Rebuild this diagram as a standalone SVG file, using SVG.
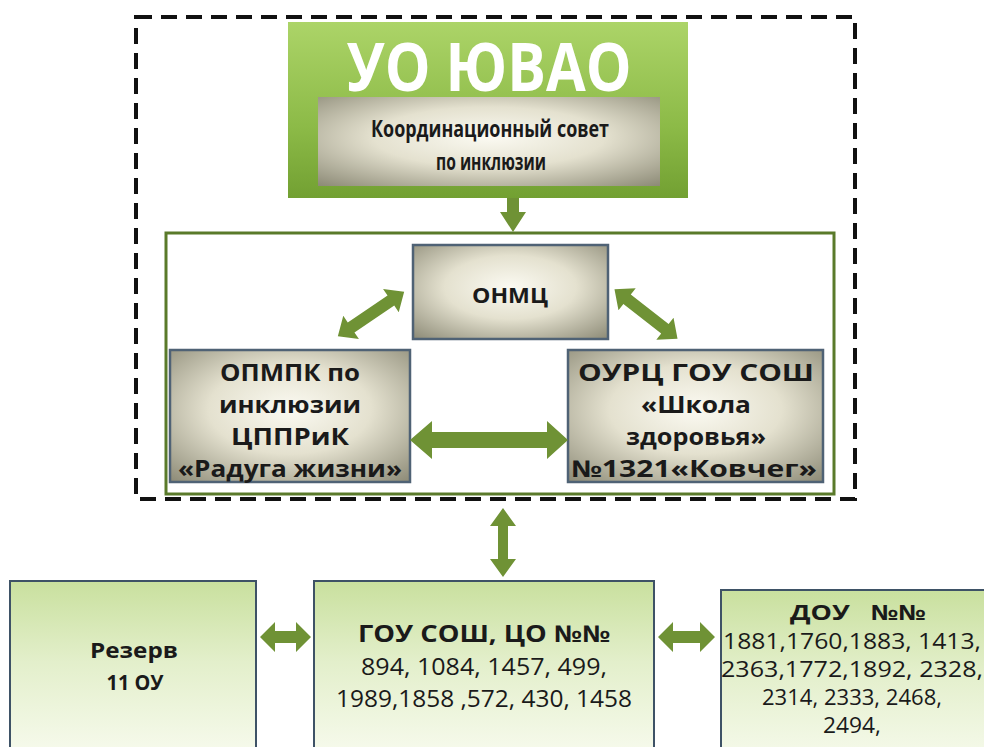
<svg xmlns="http://www.w3.org/2000/svg" width="984" height="747" viewBox="0 0 984 747">
<defs>
<linearGradient id="gTop" x1="0" y1="0" x2="0" y2="1">
<stop offset="0" stop-color="#acd468"/><stop offset="0.6" stop-color="#8cba47"/><stop offset="1" stop-color="#72a032"/>
</linearGradient>
<radialGradient id="gGray" cx="0.5" cy="0.45" r="0.75">
<stop offset="0" stop-color="#fbfaf2"/><stop offset="0.45" stop-color="#e4e1cf"/><stop offset="1" stop-color="#8a8874"/>
</radialGradient>
<linearGradient id="gLight" x1="0" y1="0" x2="0" y2="1">
<stop offset="0" stop-color="#c9e09e"/><stop offset="0.45" stop-color="#e3efcb"/><stop offset="1" stop-color="#f8fbef"/>
</linearGradient>
</defs>
<style>
.gray{fill:url(#gGray);stroke:#4f6275;stroke-width:2.5}
.light{fill:url(#gLight);stroke:#3e5266;stroke-width:2}
.arr{fill:#6f9235}
.t{font-family:"Open Sans","Liberation Sans",sans-serif;font-weight:bold;fill:#1a1a1a;text-anchor:middle}
.n{font-family:"Open Sans","Liberation Sans",sans-serif;fill:#1a1a1a;text-anchor:middle}
</style>
<rect width="984" height="747" fill="#ffffff"/>

<g id="outer-frame">
<rect x="136" y="17" width="719" height="482" fill="none" stroke="#111" stroke-width="4" stroke-dasharray="16,9"/>
</g>

<g id="inner-frame">
<rect x="166" y="233" width="668" height="261" fill="#ffffff" stroke="#5a7a2a" stroke-width="3"/>
</g>

<g id="uo-yuvao">
<rect x="288" y="22" width="400" height="176" fill="url(#gTop)"/>
<text x="489" y="91" font-family="'Open Sans','Liberation Sans',sans-serif" font-weight="bold" font-size="66" fill="#ffffff" text-anchor="middle" textLength="285" lengthAdjust="spacingAndGlyphs">УО ЮВАО</text>
</g>

<g id="coord-council">
<rect x="318" y="97" width="342" height="89" fill="url(#gGray)"/>
<text class="t" x="490" y="137" font-size="24" textLength="238" lengthAdjust="spacingAndGlyphs">Координационный совет</text>
<text class="t" x="491" y="170" font-size="24" textLength="110" lengthAdjust="spacingAndGlyphs">по инклюзии</text>
</g>

<g id="onmc">
<rect class="gray" x="413" y="245" width="195" height="94"/>
<text class="t" x="510" y="303" font-size="22" textLength="76" lengthAdjust="spacingAndGlyphs">ОНМЦ</text>
</g>

<g id="opmpk">
<rect class="gray" x="170" y="350" width="240" height="132"/>
<text class="t" x="290" y="381" font-size="23" textLength="140" lengthAdjust="spacingAndGlyphs">ОПМПК по</text>
<text class="t" x="290" y="413" font-size="23" textLength="142" lengthAdjust="spacingAndGlyphs">инклюзии</text>
<text class="t" x="290" y="445" font-size="23" textLength="118" lengthAdjust="spacingAndGlyphs">ЦППРиК</text>
<text class="t" x="290" y="477" font-size="23" textLength="224" lengthAdjust="spacingAndGlyphs">«Радуга жизни»</text>
</g>

<g id="ourc">
<rect class="gray" x="568" y="350" width="255" height="132"/>
<text class="t" x="696" y="381" font-size="23" textLength="236" lengthAdjust="spacingAndGlyphs">ОУРЦ  ГОУ СОШ</text>
<text class="t" x="696" y="413" font-size="23" textLength="110" lengthAdjust="spacingAndGlyphs">«Школа</text>
<text class="t" x="696" y="445" font-size="23" textLength="140" lengthAdjust="spacingAndGlyphs">здоровья»</text>
<text class="t" x="694" y="477" font-size="23" textLength="246" lengthAdjust="spacingAndGlyphs">№1321«Ковчег»</text>
</g>

<g id="reserve">
<rect class="light" x="10" y="581" width="246" height="180"/>
<text class="t" x="134" y="658" font-size="21" textLength="88" lengthAdjust="spacingAndGlyphs">Резерв</text>
<text class="t" x="135" y="690" font-size="21" textLength="57" lengthAdjust="spacingAndGlyphs">11 ОУ</text>
</g>

<g id="gou-sosh">
<rect class="light" x="314" y="581" width="340" height="180"/>
<text class="t" x="484" y="642" font-size="23" textLength="252" lengthAdjust="spacingAndGlyphs">ГОУ СОШ, ЦО №№</text>
<text class="n" x="484" y="675" font-size="23" textLength="246" lengthAdjust="spacingAndGlyphs">894, 1084, 1457, 499,</text>
<text class="n" x="484" y="707" font-size="23" textLength="296" lengthAdjust="spacingAndGlyphs">1989,1858 ,572, 430, 1458</text>
</g>

<g id="dou">
<rect class="light" x="721" y="590" width="275" height="180"/>
<text class="t" x="858" y="620" font-size="21" textLength="136" lengthAdjust="spacingAndGlyphs" xml:space="preserve">ДОУ   №№</text>
<text class="n" x="852" y="649" font-size="21" textLength="258" lengthAdjust="spacingAndGlyphs">1881,1760,1883, 1413,</text>
<text class="n" x="852" y="677" font-size="21" textLength="262" lengthAdjust="spacingAndGlyphs">2363,1772,1892, 2328,</text>
<text class="n" x="852" y="705" font-size="21" textLength="180" lengthAdjust="spacingAndGlyphs">2314, 2333, 2468,</text>
<text class="n" x="852" y="733" font-size="21" textLength="58" lengthAdjust="spacingAndGlyphs">2494,</text>
</g>

<g id="connectors">
<polygon class="arr" points="507,198 519,198 519,212 526,212 513,232 500,212 507,212"/>
<polygon class="arr" points="410,440 432,421 432,432 547,432 547,421 568,440 547,459 547,448 432,448 432,459"/>
<g transform="translate(371,314) rotate(-34)">
<polygon class="arr" points="-40,0 -24,-14 -24,-6 24,-6 24,-14 40,0 24,14 24,6 -24,6 -24,14"/>
</g>
<g transform="translate(646,314) rotate(38)">
<polygon class="arr" points="-40,0 -24,-14 -24,-6 24,-6 24,-14 40,0 24,14 24,6 -24,6 -24,14"/>
</g>
<polygon class="arr" points="503,508 516,526 508,526 508,559 516,559 503,577 490,559 498,559 498,526 490,526"/>
<polygon class="arr" points="260,637 275,622 275,631 296,631 296,622 311,637 296,652 296,643 275,643 275,652"/>
<polygon class="arr" points="658,637 673,622 673,631 700,631 700,622 715,637 700,652 700,643 673,643 673,652"/>
</g>
</svg>
